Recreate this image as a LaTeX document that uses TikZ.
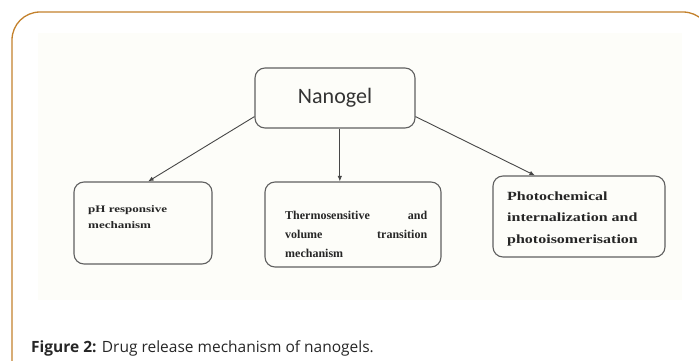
\documentclass[tikz,border=0pt]{standalone}
\usepackage{fontspec}
\setmainfont{Liberation Serif}
\newfontfamily\capfont{Open Sans}
\newfontfamily\calfont{Carlito}
\newfontfamily\widephfont[FakeStretch=1.3]{Liberation Serif}
\newfontfamily\widephotofont[FakeStretch=1.28]{Liberation Serif}
\usetikzlibrary{arrows.meta}
\definecolor{framecol}{HTML}{C3812C}
\definecolor{faintbg}{HTML}{FDFDF9}
\definecolor{boxline}{HTML}{606060}
\definecolor{txtcol}{HTML}{262626}
\begin{document}
\begin{tikzpicture}[x=1pt,y=-1pt,
  box/.style={draw=boxline, line width=1.1pt, rounded corners=10pt, inner sep=0pt},
  arr/.style={draw=black!72, line width=0.9pt, -{Latex[length=5.5pt,width=4.5pt]}},
  boxtxt/.style={anchor=north west, inner sep=0pt, align=left, text=txtcol}]
\useasboundingbox (0,0) rectangle (699,361);
\begin{scope}
  \clip (0,0) rectangle (699,361);
  \draw[framecol, line width=1.3pt, rounded corners=28pt] (12,12) rectangle (711,392);
\end{scope}
\fill[faintbg] (38,33) rectangle (682,300);

\node[box, minimum width=160pt, minimum height=60pt] (nano) at (335,98)
  {\calfont\fontsize{22}{26}\selectfont\color{black!80}Nanogel};
\node[box, minimum width=138pt, minimum height=82pt] (ph) at (143,223) {};
\node[box, minimum width=176pt, minimum height=85pt] (thermo) at (353,224.5) {};
\node[box, minimum width=172pt, minimum height=81pt] (photo) at (579,216.5) {};

\node[boxtxt, font=\widephfont\bfseries\fontsize{10}{16}\selectfont] (phtxt) at (88,205.5)
  {pH responsive\\mechanism};
\node[boxtxt, text width=142pt, font=\bfseries\fontsize{12}{19}\selectfont] (thermotxt) at (285,211)
  {Thermosensitive\hfill and\\volume\hfill transition\\mechanism};
\node[boxtxt, font=\widephotofont\bfseries\fontsize{12.5}{21.5}\selectfont] (phototxt) at (507,191.5)
  {Photochemical\\internalization and\\photoisomerisation};

\draw[arr] (nano.193) -- (ph.83);
\draw[arr] (nano.279) -- (nano.279 |- thermo.north);
\draw[arr] (nano.347) -- (photo.137);

\node[anchor=base west, inner sep=0pt, text=txtcol] (cap) at (31,352)
  {\capfont\fontsize{15.5}{19}\selectfont\textbf{Figure 2:} Drug release mechanism of nanogels.};
\end{tikzpicture}
\end{document}
